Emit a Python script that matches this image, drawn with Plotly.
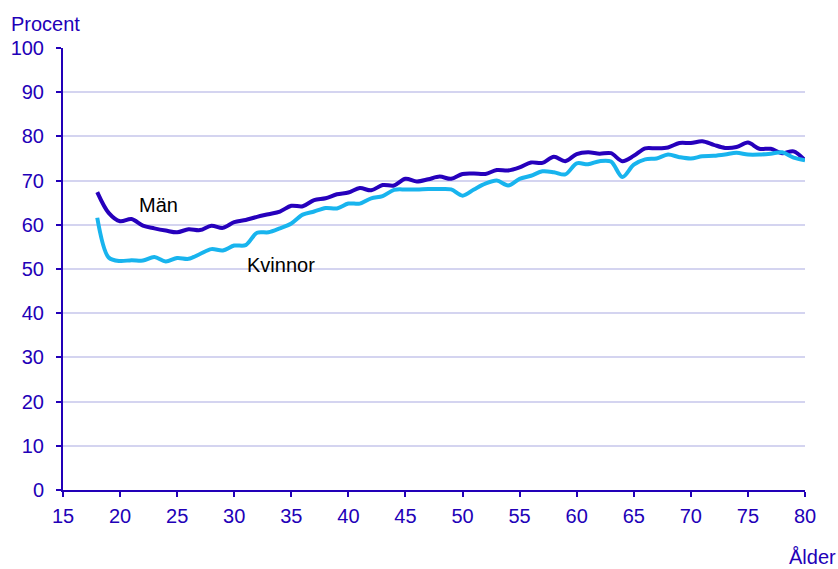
import plotly.graph_objects as go

ages = list(range(18, 81))
man = [67.4, 62.7, 60.8, 61.3, 59.8, 59.2, 58.7, 58.3, 59.0, 58.8,
       59.8, 59.3, 60.6, 61.1, 61.8, 62.4, 63.0, 64.3, 64.2, 65.6,
       66.0, 66.9, 67.3, 68.3, 67.8, 69.0, 68.9, 70.4, 69.8, 70.3,
       70.9, 70.4, 71.5, 71.6, 71.5, 72.4, 72.3, 73.0, 74.1, 74.0,
       75.4, 74.4, 76.0, 76.4, 76.1, 76.2, 74.4, 75.6, 77.3, 77.3,
       77.5, 78.5, 78.5, 78.9, 78.1, 77.4, 77.6, 78.6, 77.2, 77.2,
       76.2, 76.6, 74.6]
kvinnor = [61.6, 52.6, 51.8, 52.0, 51.9, 52.7, 51.7, 52.5, 52.3, 53.4,
           54.5, 54.2, 55.3, 55.4, 58.2, 58.3, 59.2, 60.3, 62.3, 63.0,
           63.8, 63.7, 64.8, 64.8, 66.0, 66.5, 67.9, 68.0, 68.0, 68.1,
           68.1, 68.0, 66.6, 68.0, 69.3, 70.0, 68.9, 70.4, 71.1, 72.1,
           71.9, 71.4, 73.9, 73.7, 74.4, 74.3, 70.8, 73.6, 74.8, 75.0,
           75.9, 75.3, 75.0, 75.5, 75.6, 75.9, 76.3, 75.9, 75.9, 76.1,
           76.4, 75.2, 74.6]
x_ticks = list(range(15, 81, 5))
y_ticks = list(range(0, 101, 10))

axis_col = "#2200b8"
W, H = 838, 569
ML, MR, MT, MB = 63, 33, 48, 79
pw = W - ML - MR
ph = H - MT - MB


def px_to_paper(px, py):
    return (px - ML) / pw, (H - MB - py) / ph


fig = go.Figure()
fig.add_trace(go.Scatter(x=ages, y=man, mode="lines", name="Män",
                         line=dict(color="#2600bc", width=4, shape="spline", smoothing=0.9)))
fig.add_trace(go.Scatter(x=ages, y=kvinnor, mode="lines", name="Kvinnor",
                         line=dict(color="#18b4ee", width=4, shape="spline", smoothing=0.9)))

px1, py1 = px_to_paper(9, 24)
px2, py2 = px_to_paper(838, 557)
fig.update_layout(
    width=W, height=H,
    margin=dict(l=ML, r=MR, t=MT, b=MB),
    paper_bgcolor="white", plot_bgcolor="white",
    showlegend=False,
    font=dict(family="Liberation Sans, Arial, sans-serif", size=20, color=axis_col),
    annotations=[
        dict(x=23.4, y=64.5, text="Män", showarrow=False, xref="x", yref="y",
             font=dict(color="black", size=20)),
        dict(x=34.1, y=50.9, text="Kvinnor", showarrow=False, xref="x", yref="y",
             font=dict(color="black", size=20)),
        dict(x=px1, y=py1, text="Procent", showarrow=False, xref="paper", yref="paper",
             xanchor="left", yanchor="middle", font=dict(color=axis_col, size=20)),
        dict(x=px2, y=py2, text="Ålder", showarrow=False, xref="paper", yref="paper",
             xanchor="right", yanchor="middle", font=dict(color=axis_col, size=20)),
    ],
)

fig.update_xaxes(range=[15, 80], tickvals=x_ticks, ticks="outside", ticklen=5,
                 tickwidth=2, tickcolor=axis_col, showline=True, linecolor=axis_col,
                 linewidth=2, showgrid=False, zeroline=False, ticklabelstandoff=2)
fig.update_yaxes(range=[0, 100], tickvals=y_ticks, ticks="outside", ticklen=5,
                 tickwidth=2, tickcolor=axis_col, showline=True, linecolor=axis_col,
                 linewidth=2, showgrid=True, gridcolor="#d4d4f0", gridwidth=2,
                 zeroline=False, ticklabelstandoff=8)

fig.write_html("out.html", config={"displayModeBar": False},
               post_script="document.body.style.margin='0px';document.body.style.overflow='hidden';")
